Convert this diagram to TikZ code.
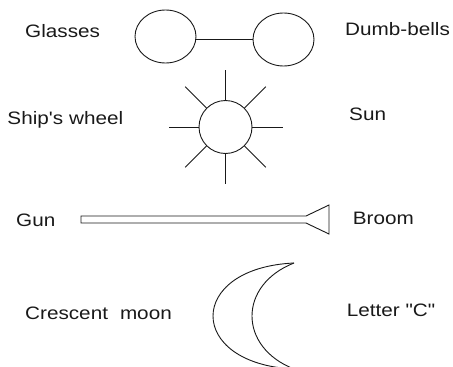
\documentclass[tikz,border=0pt]{standalone}
\usepackage{fontspec}
\setmainfont[FakeStretch=1.15, Ligatures=TeXOff]{Liberation Sans}
\usepackage{tikz}
\usetikzlibrary{shapes.geometric, positioning}
\tikzset{
  namelabel/.style={
    anchor=base west, inner sep=0pt, text=black!90,
    font=\fontsize{18}{20}\selectfont
  },
  shapeline/.style={line width=0.9pt, color=black!90},
  lensnode/.style={
    ellipse, draw, shapeline, inner sep=0pt,
    minimum width=61pt, minimum height=53pt
  },
  sunnode/.style={
    circle, draw, shapeline, inner sep=0pt, minimum size=53pt
  },
}
\begin{document}
\begin{tikzpicture}[x=1pt, y=-1pt]
  \clip (0,0) rectangle (453,367);

  % Labels, left column
  \node[namelabel] (glasses) at (25,37.3) {Glasses};
  \node[namelabel] (wheel) at (7.3,124) {Ship's\hspace{6pt}wheel};
  \node[namelabel] (gun) at (16,226) {Gun};
  \node[namelabel] (moon) at (25,319.3) {Crescent\hspace{12pt}moon};

  % Labels, right column
  \node[namelabel] (dumbbells) at (345,35) {Dumb-bells};
  \node[namelabel] (sunlbl) at (349,120) {Sun};
  \node[namelabel] (broom) at (352.7,224) {Broom};
  \node[namelabel] (letterc) at (346.7,316.7) {Letter "C"};

  % Glasses / dumb-bells
  \node[lensnode] (lensL) at (165.5,36.5) {};
  \node[lensnode] (lensR) at (283.5,39.5) {};
  \draw[shapeline] (lensL.east |- lensR.west) -- (lensR.west);

  % Ship's wheel / sun
  \node[sunnode] (sun) at (225.5,127) {};
  \foreach \a in {0,45,...,315}
    \draw[shapeline] (sun.\a) -- ([shift={(\a:57pt)}]sun.center);

  % Gun / broom
  \draw[shapeline] (81,216) -- (306,216) -- (329,205) -- (329,234)
    -- (306,223) -- (81,223) -- cycle;

  % Crescent moon / letter C
  \draw[shapeline] (294,263) .. controls (186,268) and (186,364) .. (294,369);
  \draw[shapeline] (294,263) .. controls (238,285) and (238,347) .. (294,369);
\end{tikzpicture}
\end{document}
